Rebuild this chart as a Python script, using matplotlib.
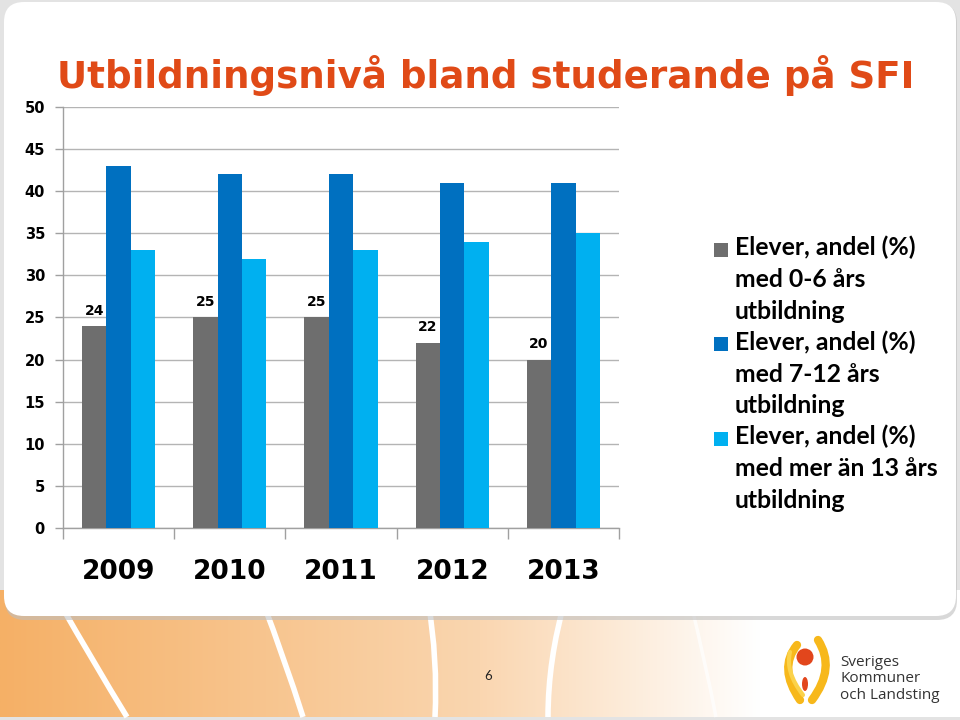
import numpy as np
import matplotlib
matplotlib.use("Agg")
import matplotlib.pyplot as plt
from matplotlib.patches import FancyBboxPatch, Rectangle, PathPatch, Circle, Ellipse
from matplotlib.path import Path

# ---------------- data ----------------
years = ["2009", "2010", "2011", "2012", "2013"]
low_edu = [24, 25, 25, 22, 20]          # 0-6 års utbildning
mid_edu = [43, 42, 42, 41, 41]          # 7-12 års utbildning
high_edu = [33, 32, 33, 34, 35]         # mer än 13 års utbildning
series_labels = [
    "Elever, andel (%)\nmed 0-6 års\nutbildning",
    "Elever, andel (%)\nmed 7-12 års\nutbildning",
    "Elever, andel (%)\nmed mer än 13 års\nutbildning",
]
yticks = [0, 5, 10, 15, 20, 25, 30, 35, 40, 45, 50]
title = "Utbildningsnivå bland studerande på SFI"
page_number = "6"
logo_text = "Sveriges\nKommuner\noch Landsting"

colors = ["#6E6E6E", "#0070C0", "#00B0F0"]

W, H = 960, 720
fig = plt.figure(figsize=(9.6, 7.2), dpi=100)
fig.patch.set_facecolor("#E3E3E3")

# ---------------- slide background ----------------
bg = fig.add_axes([0, 0, 1, 1], zorder=-5)
bg.set_xlim(0, W)
bg.set_ylim(H, 0)
bg.axis("off")

# orange gradient band at the bottom
xs = np.linspace(0, W, 400)
stops_x = [0, 480, 760, 960]
stops_c = np.array([[245, 176, 102], [250, 214, 176], [255, 255, 255], [255, 255, 255]]) / 255
grad = np.stack([np.interp(xs, stops_x, stops_c[:, k]) for k in range(3)], axis=-1)
grad = np.repeat(grad[None, :, :], 10, axis=0)
bg.imshow(grad, extent=(0, W, 717, 590), aspect="auto", zorder=0)

# white curves in the band
curves = [((58, 600), (95, 665), (127, 717)),
          ((262, 600), (285, 660), (303, 717)),
          ((428, 600), (438, 660), (435, 717)),
          ((565, 600), (548, 660), (548, 717)),
          ((690, 600), (705, 660), (716, 717))]
for i, (p0, p1, p2) in enumerate(curves):
    path = Path([p0, p1, p2], [Path.MOVETO, Path.CURVE3, Path.CURVE3])
    bg.add_patch(PathPatch(path, facecolor="none", edgecolor="white",
                           lw=4 if i < 4 else 2.5, alpha=1 if i < 4 else 0.7, zorder=1))

# card shadow + white card
bg.add_patch(FancyBboxPatch((5, 3), 952, 617, boxstyle="round,pad=0,rounding_size=20",
                            facecolor="#BFBFBF", edgecolor="none", alpha=0.6, zorder=2))
bg.add_patch(FancyBboxPatch((4, 2), 952, 614, boxstyle="round,pad=0,rounding_size=20",
                            facecolor="white", edgecolor="none", zorder=3))

# page number
bg.text(488, 676, page_number, ha="center", va="center", fontsize=9.5,
        family="Lato", color="#222222", zorder=4)

# logo
def arm(pts, lw, col):
    path = Path(pts, [Path.MOVETO, Path.CURVE3, Path.CURVE3])
    bg.add_patch(PathPatch(path, facecolor="none", edgecolor=col, lw=lw,
                           capstyle="round", zorder=4))
arm([(797, 645), (778, 668), (800, 700)], 6, "#F7B81B")
arm([(818, 640), (836, 668), (812, 700)], 6, "#F7B81B")
arm([(790, 652), (785, 672), (803, 695)], 3, "#FBD24A")
bg.add_patch(Circle((805, 657), 8.5, facecolor="#E2461C", edgecolor="none", zorder=5))
bg.add_patch(Ellipse((805, 684), 6, 14, facecolor="#E2461C", edgecolor="none", zorder=5))
bg.text(840, 679, logo_text, ha="left", va="center", fontsize=11, family="Open Sans",
        color="#333333", linespacing=1.1, zorder=5)

# title
fig.text(57 / W, 1 - 88 / H, title, ha="left", va="baseline", fontsize=26.8,
         fontweight="bold", family="DejaVu Sans", color="#E04A17")

# ---------------- chart ----------------
ax = fig.add_axes([63 / W, 1 - 528 / H, (619 - 63) / W, (528 - 107) / H])
ax.set_facecolor("none")
x = np.arange(len(years))
bw = 0.22
ax.bar(x - bw, low_edu, bw, color=colors[0], zorder=3)
ax.bar(x, mid_edu, bw, color=colors[1], zorder=3)
ax.bar(x + bw, high_edu, bw, color=colors[2], zorder=3)
for xi, v in zip(x - bw, low_edu):
    ax.annotate(f"{v}", (xi, v), xytext=(0, 6), textcoords="offset points",
                ha="center", va="bottom", fontsize=10, fontweight="bold",
                family="DejaVu Sans", color="black")

ax.set_ylim(0, 50)
ax.set_xlim(-0.5, len(years) - 0.5)
ax.set_yticks(yticks)
ax.set_yticklabels([str(t) for t in yticks], fontsize=10.5, fontweight="bold",
                   family="DejaVu Sans")
ax.tick_params(axis="y", length=6, width=1, color="#A0A0A0", pad=7)
ax.yaxis.grid(True, color="#B4B4B4", lw=1, zorder=0)
ax.set_axisbelow(True)

ax.set_xticks(x)
ax.set_xticklabels(years, fontsize=19, fontweight="heavy", family="DejaVu Sans")
ax.tick_params(axis="x", which="major", length=0, pad=22)
ax.set_xticks(np.arange(-0.5, len(years), 1.0), minor=True)
ax.tick_params(axis="x", which="minor", length=8, width=1, color="#A0A0A0")

for s in ["top", "right"]:
    ax.spines[s].set_visible(False)
for s in ["left", "bottom"]:
    ax.spines[s].set_color("#A0A0A0")
    ax.spines[s].set_linewidth(1)

# ---------------- legend ----------------
line_h = 31.5
y0 = 250
fs_leg = 17.8
for i, (lab, col) in enumerate(zip(series_labels, colors)):
    yc = y0 + i * 3 * line_h
    fig.patches.append(Rectangle((714 / W, 1 - (yc + 7) / H), 14 / W, 14 / H,
                                 transform=fig.transFigure, facecolor=col,
                                 edgecolor="none"))
    fig.text(735 / W, 1 - (yc - 14) / H, lab, ha="left", va="top", fontsize=fs_leg,
             fontweight="bold", family="Lato", color="black", linespacing=1.45)

fig.savefig("out.png", dpi=100, facecolor=fig.get_facecolor())
